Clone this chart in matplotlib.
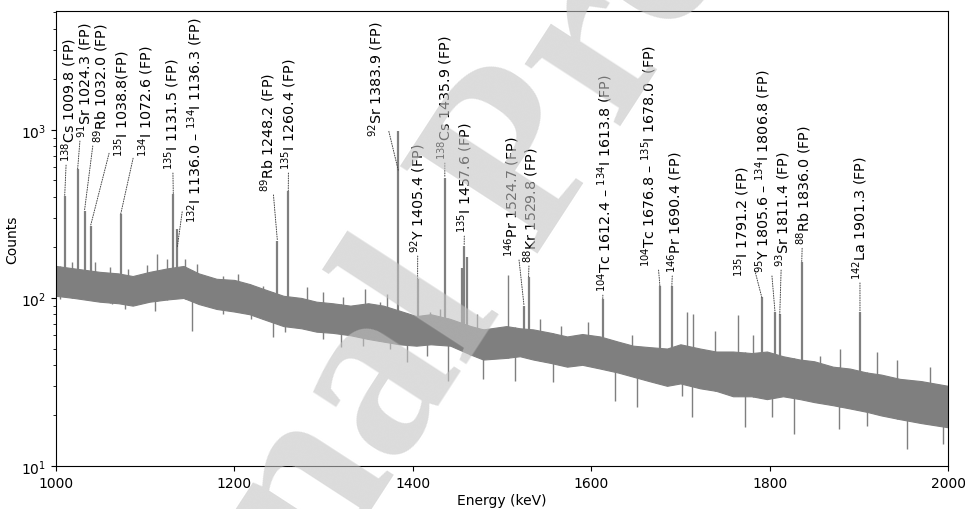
import numpy as np
import matplotlib
matplotlib.use("Agg")
import matplotlib.pyplot as plt

# dense part of the spectrum (lower / upper edge of the grey band)
band_E = [1000, 1020, 1049, 1070, 1086, 1105, 1125, 1143, 1160, 1180, 1200, 1217,
          1235, 1255, 1275, 1292, 1310, 1330, 1350, 1367, 1385, 1404, 1420, 1442,
          1465, 1479, 1505, 1520, 1535, 1555, 1573, 1590, 1610, 1630, 1647, 1665,
          1685, 1700, 1722, 1740, 1759, 1780, 1797, 1815, 1834, 1850, 1871, 1890,
          1909, 1925, 1946, 1970, 2000]
band_hi = [155, 150, 143, 140, 135, 143, 150, 155, 140, 130, 128, 121,
           112, 103, 100, 95, 93, 90, 93, 90, 84, 78, 80, 75,
           68, 65, 68, 66, 65, 62, 59, 61, 59, 55, 52, 51,
           50, 53, 50, 48, 48, 47, 48, 45, 43, 42, 39, 38,
           36, 35, 33, 32, 30]
band_lo = [103, 100, 95, 93, 90, 95, 98, 100, 92, 86, 83, 80,
           74, 68, 66, 63, 62, 60, 57, 55, 53, 52, 53, 52,
           46, 43, 44, 45, 43, 41, 39, 40, 38, 36, 34, 32,
           30, 31, 29, 28, 26, 26, 25, 26, 25, 24, 23, 22,
           21, 20, 19, 18, 17]

# labelled peaks (energy, top counts)
peak_E = [1009.8, 1024.3, 1032.0, 1038.8, 1072.6, 1131.5, 1136.0, 1248.2, 1260.4,
          1383.9, 1405.4, 1435.9, 1455.5, 1457.6, 1460.5, 1524.7, 1529.8, 1613.0,
          1677.0, 1690.4, 1791.2, 1806.0, 1811.4, 1836.0, 1901.3]
peak_h = [406, 586, 331, 269, 316, 416, 258, 219, 435,
          990, 130, 520, 150, 205, 175, 90, 133, 99,
          118, 118, 101, 83, 80, 163, 83]

# other spikes above / below the band
up_E = [1018, 1044, 1060.5, 1080.7, 1101.7, 1113.6, 1124, 1144.6, 1157.7, 1172.6,
        1187.3, 1204, 1217.5, 1232, 1281, 1299, 1321.7, 1346, 1363, 1370.7,
        1419, 1430.5, 1471.6, 1507, 1542.6, 1566, 1596.8, 1645.4, 1707, 1714,
        1739, 1765, 1781.5, 1856.5, 1879, 1920, 1942.5, 1980]
up_h = [164, 164, 153, 149, 156, 183, 171, 171, 159, 133,
        135, 139, 121, 118, 116, 108, 101, 113, 95, 106,
        83, 86, 80, 137, 75, 68, 72, 60, 83, 80,
        64, 79, 60, 45, 50, 48, 43, 39]
down_E = [1004.5, 1034.4, 1062.4, 1077.4, 1111, 1152, 1187, 1219, 1243, 1256.7,
          1299.7, 1320, 1344.5, 1374.4, 1393, 1415.6, 1439.5, 1464, 1479, 1514.6,
          1557.5, 1626.7, 1651, 1701.4, 1712.6, 1772.4, 1803, 1827, 1878, 1908.8,
          1953.7, 1994]
down_h = [98, 98, 92, 86, 84, 64, 80, 75, 58.5, 62.5,
          57, 51, 52, 50, 41.5, 45, 32, 46, 33, 32,
          31.5, 24.5, 22.4, 26, 19.6, 17, 19.5, 15.5, 16.6, 17.3,
          12.6, 13.5]

# annotations: label, peak energy, line end counts, text x (keV), text bottom counts
labels = [
    r"$^{138}$Cs 1009.8 (FP)",
    r"$^{91}$Sr 1024.3 (FP)",
    r"$^{89}$Rb 1032.0 (FP)",
    r"$^{135}$I 1038.8(FP)",
    r"$^{134}$I 1072.6 (FP)",
    r"$^{135}$I 1131.5 (FP)",
    r"$^{132}$I 1136.0 – $^{134}$I 1136.3 (FP)",
    r"$^{89}$Rb 1248.2 (FP)",
    r"$^{135}$I 1260.4 (FP)",
    r"$^{92}$Sr 1383.9 (FP)",
    r"$^{92}$Y 1405.4 (FP)",
    r"$^{138}$Cs 1435.9 (FP)",
    r"$^{135}$I 1457.6 (FP)",
    r"$^{146}$Pr 1524.7 (FP)",
    r"$^{88}$Kr 1529.8 (FP)",
    r"$^{104}$Tc 1612.4 – $^{134}$I 1613.8 (FP)",
    r"$^{104}$Tc 1676.8 – $^{135}$I 1678.0  (FP)",
    r"$^{146}$Pr 1690.4 (FP)",
    r"$^{135}$I 1791.2 (FP)",
    r"$^{95}$Y 1805.6 – $^{134}$I 1806.8 (FP)",
    r"$^{93}$Sr 1811.4 (FP)",
    r"$^{88}$Rb 1836.0 (FP)",
    r"$^{142}$La 1901.3 (FP)",
]
ann_E = [1009.8, 1024.3, 1032.0, 1038.8, 1072.6, 1131.5, 1136.0, 1248.2, 1260.4,
         1383.9, 1405.4, 1435.9, 1457.6, 1524.7, 1529.8, 1613.0, 1677.0, 1690.4,
         1791.2, 1806.0, 1811.4, 1836.0, 1901.3]
ann_y = [406, 586, 331, 269, 316, 416, 200, 219, 435,
         570, 130, 520, 205, 90, 133, 99, 118, 118,
         101, 83, 80, 163, 83]
txt_E = [1014.6, 1032.5, 1050.4, 1074.0, 1100.9, 1130.0, 1155.8, 1237.7, 1261.2,
         1358.7, 1405.8, 1436.1, 1458.5, 1511.2, 1532.5, 1615.5, 1664.8, 1693.9,
         1769.0, 1792.6, 1815.0, 1838.6, 1901.3]
txt_y = [653, 908, 849, 700, 700, 586, 283, 434, 586,
         920, 188, 672, 247, 178, 164, 110, 155, 143,
         135, 143, 155, 209, 130]

col = '#7f7f7f'

fig = plt.figure(figsize=(9.65, 5.1), dpi=100)
ax = fig.add_axes([0.058, 0.0843, 0.9244, 0.8922])

ax.fill_between(band_E, band_lo, band_hi, color=col, lw=0.8)

lo_at = lambda e: np.interp(e, band_E, band_lo)
hi_at = lambda e: np.interp(e, band_E, band_hi)
ax.vlines(up_E, lo_at(up_E), up_h, color=col, lw=1.0)
ax.vlines(down_E, down_h, hi_at(down_E), color=col, lw=1.0)
ax.vlines(peak_E, lo_at(peak_E), peak_h, color=col, lw=1.6)

for lab, e, y, te, ty in zip(labels, ann_E, ann_y, txt_E, txt_y):
    ax.annotate(lab, xy=(e, y), xytext=(te, ty), rotation=90,
                ha='center', va='bottom', fontsize=10.3,
                arrowprops=dict(arrowstyle='-', ls=(0, (1, 1.5)), lw=0.7,
                                color='#444444', shrinkA=1, shrinkB=0))

ax.set_yscale('log')
ax.set_xlim(1000, 2000)
ax.set_ylim(10, 5100)
ax.set_xticks([1000, 1200, 1400, 1600, 1800, 2000])
ax.set_xlabel('Energy (keV)', labelpad=2)
ax.set_ylabel('Counts', labelpad=1)

# watermark
fig.text(0.54, 0.67, 'Journal Pre-proof', rotation=57, fontsize=178,
         family='Liberation Serif', weight='bold', color='#c4c4c4', alpha=0.6,
         ha='center', va='center', zorder=10)

fig.savefig('out.png', dpi=100)
